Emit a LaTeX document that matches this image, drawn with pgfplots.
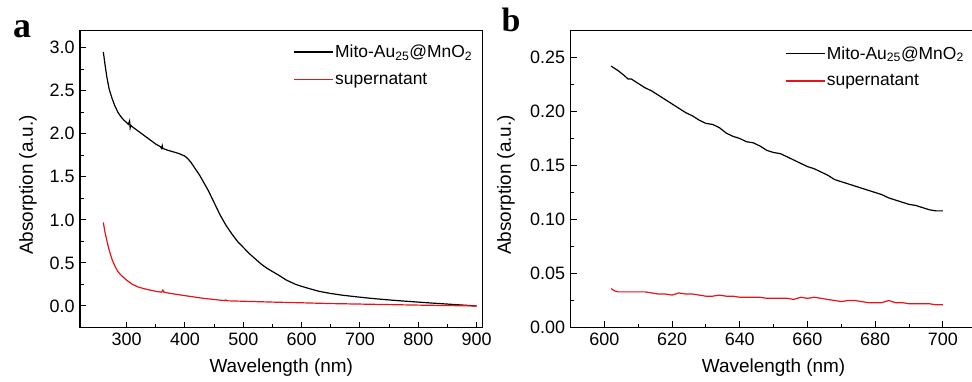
\documentclass[border=0pt]{standalone}
\usepackage{fontspec}
\setmainfont{Liberation Sans}
\newfontfamily\serifbold{Liberation Serif}
\usepackage{pgfplots}
\pgfplotsset{compat=1.18}
\definecolor{curvered}{RGB}{230,20,25}
\pgfplotsset{
  myaxis/.style={
    scale only axis,
    anchor=south west,
    height=297bp,
    axis line style={line width=1.1bp},
    tick style={line width=1.0bp, black},
    major tick length=6bp,
    minor tick length=3.5bp,
    tick align=inside,
    xtick pos=bottom, ytick pos=left,
    minor x tick num=1, minor y tick num=1,
    /pgf/number format/assume math mode=true,
    tick label style={font=\fontsize{18}{18}\selectfont},
    xticklabel style={yshift=-2bp},
    yticklabel style={xshift=-2bp},
    label style={font=\fontsize{19}{20}\selectfont},
    xlabel={Wavelength (nm)},
    ylabel={Absorption (a.u.)},
    xlabel style={at={(axis description cs:0.5,-0.136)}, anchor=center},
    legend style={draw=none, fill=none, font=\fontsize{17.5}{20}\selectfont, row sep=11bp, inner sep=0pt, nodes={inner sep=1.5bp}, legend cell align=left},
    legend image code/.code={\draw[##1] (0bp,0bp) -- (39bp,0bp);},
    every axis plot/.append style={line width=1.2bp},
  }
}
\begin{document}
\begin{tikzpicture}
\begin{axis}[myaxis,
  at={(80bp,54.5bp)}, width=402.5bp,
  xmin=220, xmax=910, ymin=-0.25, ymax=3.2,
  xtick={300,400,500,600,700,800,900},
  ytick={0,0.5,1.0,1.5,2.0,2.5,3.0},
  yticklabel style={/pgf/number format/.cd, fixed, fixed zerofill, precision=1},
  ylabel style={at={(axis description cs:-0.129,0.48)}, anchor=center},
  legend style={at={(0.53,0.957)}, anchor=north west},
]
\addplot[black] coordinates {
(260,2.95) (263,2.80) (266,2.66) (270,2.52) (275,2.41) (280,2.32) (285,2.25)
(290,2.20) (295,2.16) (300,2.13) (303,2.11) (305,2.15) (306,2.07) (307,2.10)
(310,2.08) (320,2.03) (330,1.98) (340,1.93) (350,1.88) (358,1.85) (360,1.83)
(361,1.86) (362,1.83) (370,1.81) (380,1.79) (390,1.77) (400,1.74) (405,1.71)
(410,1.67) (415,1.62) (420,1.57) (425,1.52) (430,1.46) (435,1.40) (440,1.34)
(445,1.27) (450,1.20) (455,1.13) (460,1.06) (465,1.00) (470,0.94) (480,0.84)
(490,0.75) (500,0.68) (510,0.61) (520,0.55) (530,0.49) (540,0.44) (550,0.40)
(560,0.36) (574,0.30) (590,0.25) (600,0.228) (614,0.20) (630,0.17) (649,0.146)
(670,0.125) (700,0.102) (720,0.088) (750,0.070) (775,0.057) (800,0.045)
(825,0.033) (850,0.022) (875,0.011) (900,0.0)
};
\addlegendentry{Mito-Au\textsubscript{25}@MnO\textsubscript{2}}
\addplot[curvered] coordinates {
(260,0.97) (263,0.85) (266,0.76) (270,0.65) (275,0.54) (280,0.46) (285,0.40)
(290,0.36) (300,0.30) (310,0.25) (320,0.22) (330,0.20) (340,0.185) (350,0.17)
(360,0.16) (362,0.185) (364,0.16) (375,0.146) (400,0.12) (430,0.09) (468,0.062)
(470,0.070) (472,0.060) (500,0.055) (550,0.045) (600,0.037) (650,0.028)
(700,0.022) (750,0.016) (800,0.010) (850,0.005) (900,0.0)
};
\addlegendentry{supernatant}
\end{axis}
\begin{axis}[myaxis,
  at={(570.5bp,54.5bp)}, width=406.2bp,
  xmin=590, xmax=710, ymin=0, ymax=0.275,
  xtick={600,620,640,660,680,700},
  ytick={0,0.05,0.10,0.15,0.20,0.25},
  yticklabel style={/pgf/number format/.cd, fixed, fixed zerofill, precision=2},
  ylabel style={at={(axis description cs:-0.159,0.48)}, anchor=center},
  legend style={at={(0.528,0.952)}, anchor=north west},
]
\addplot[black] coordinates {
(602,0.242) (604,0.238) (606,0.233) (607,0.230) (608,0.230) (610,0.226)
(612,0.222) (614,0.219) (616,0.215) (618,0.211) (620,0.207) (622,0.203)
(624,0.199) (626,0.196) (628,0.192) (630,0.189) (632,0.188) (634,0.185)
(636,0.180) (638,0.177) (640,0.175) (642,0.172) (644,0.171) (646,0.168)
(648,0.164) (650,0.162) (652,0.161) (654,0.158) (656,0.155) (658,0.152)
(660,0.149) (662,0.147) (664,0.144) (666,0.141) (668,0.137) (670,0.135)
(672,0.133) (674,0.131) (676,0.129) (678,0.127) (680,0.125) (682,0.123)
(684,0.120) (686,0.118) (688,0.116) (690,0.114) (692,0.113) (694,0.111)
(696,0.109) (698,0.108) (700,0.108)
};
\addlegendentry{Mito-Au\textsubscript{25}@MnO\textsubscript{2}}
\addplot[curvered] coordinates {
(602,0.036) (603,0.034) (604,0.033) (606,0.033) (608,0.033) (610,0.033)
(612,0.033) (614,0.032) (616,0.031) (618,0.031) (620,0.030) (622,0.032)
(624,0.031) (626,0.031) (628,0.030) (630,0.029) (632,0.029) (634,0.030)
(636,0.029) (638,0.029) (640,0.028) (642,0.028) (644,0.028) (646,0.028)
(648,0.027) (650,0.027) (652,0.027) (654,0.027) (656,0.026) (658,0.028)
(660,0.027) (662,0.028) (664,0.027) (666,0.026) (668,0.025) (670,0.024)
(672,0.025) (674,0.025) (676,0.024) (678,0.023) (680,0.023) (682,0.023)
(684,0.025) (686,0.023) (688,0.023) (690,0.022) (692,0.022) (694,0.022)
(696,0.022) (698,0.021) (700,0.021)
};
\addlegendentry{supernatant}
\end{axis}
\node[anchor=base, inner sep=0pt, font=\serifbold\bfseries\fontsize{36}{36}\selectfont] at (22bp,344bp) {a};
\node[anchor=base, inner sep=0pt, font=\serifbold\bfseries\fontsize{34}{34}\selectfont] at (511bp,350bp) {b};
\pgfresetboundingbox
\useasboundingbox (0bp,0bp) rectangle (972bp,382bp);
\end{tikzpicture}
\end{document}
